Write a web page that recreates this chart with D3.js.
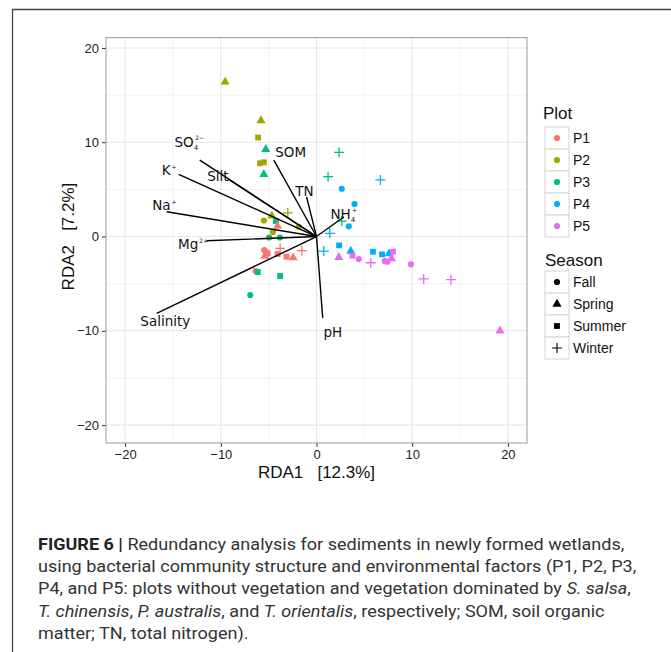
<!DOCTYPE html>
<html>
<head>
<meta charset="utf-8">
<script src="https://cdn.jsdelivr.net/npm/d3@7"></script>
<style>
  body { margin: 0; background: #fff; }
  svg { display: block; }
</style>
</head>
<body>
<div id="chart"></div>
<script>
// ---- data ----
const plots = ["P1", "P2", "P3", "P4", "P5"];
const plotColors = ["#F8766D", "#A3A500", "#00BF7D", "#00B0F6", "#E76BF3"];
const seasons = ["Fall", "Spring", "Summer", "Winter"];

const sampleX = [-9.55, -5.8, -6.1, -5.3, -5.9, -5.5, -5.5, -5.5, -4.67, -4.25, -4.07, -3.0, -1.85, -4.56,
  -4.95, -3.83, -5.47, -5.22, -5.4, -5.1, -3.8, -4.07, -3.13, -2.44, -1.53, -6.37, -6.13, -3.8, -6.93,
  2.36, 1.21, 6.68, 2.64, 3.97, 2.64, 3.37, 1.39, 0.76, 2.36, 2.33, 3.58, 3.76, 4.42, 5.9, 5.67, 6.85,
  7.13, 7.41, 7.58, 8.0, 7.83, 9.87, 11.2, 14.05, 19.17];
const sampleY = [16.4, 12.3, 10.5, 9.25, 7.77, 7.87, 6.6, 1.7, 2.2, 1.64, 1.1, 2.5, 1.04, 0.48,
  -0.1, -0.1, -1.43, -1.68, -2.07, -1.8, -1.25, -1.86, -2.14, -2.25, -1.5, -3.66, -3.77, -4.19, -6.2,
  8.93, 6.35, 6.0, 5.07, 3.45, 1.64, 1.08, 0.34, -1.54, -0.94, -2.2, -1.54, -2.03, -2.39, -1.61, -2.78, -1.89,
  -2.6, -2.67, -1.82, -1.61, -2.35, -2.95, -4.5, -4.58, -10.0];
const samplePlot = ["P2", "P2", "P2", "P3", "P2", "P2", "P3", "P2", "P2", "P3", "P1", "P2", "P2", "P2",
  "P3", "P3", "P1", "P1", "P1", "P1", "P1", "P1", "P1", "P1", "P1", "P1", "P3", "P3", "P3",
  "P3", "P3", "P4", "P4", "P4", "P3", "P4", "P4", "P4", "P4", "P5", "P4", "P5", "P5", "P4", "P5", "P4",
  "P5", "P5", "P4", "P5", "P5", "P5", "P5", "P5", "P5"];
const sampleSeason = ["Spring", "Spring", "Summer", "Spring", "Summer", "Summer", "Spring", "Fall", "Spring", "Summer", "Spring", "Winter", "Fall", "Fall",
  "Fall", "Fall", "Fall", "Fall", "Spring", "Summer", "Winter", "Summer", "Summer", "Spring", "Winter", "Fall", "Summer", "Summer", "Fall",
  "Winter", "Winter", "Winter", "Fall", "Fall", "Winter", "Fall", "Winter", "Winter", "Summer", "Spring", "Spring", "Summer", "Fall", "Summer", "Winter", "Summer",
  "Fall", "Fall", "Spring", "Summer", "Spring", "Fall", "Winter", "Winter", "Spring"];

// environmental vectors (arrow tips) and their label anchors, in RDA units
const envNames = ["SO4", "K", "Silt", "SOM", "TN", "Na", "Mg", "Salinity", "pH", "NH4"];
const envX = [-12.2, -14.4, -9.26, -4.46, -1.04, -15.66, -11.5, -16.7, 0.65, 2.85];
const envY = [8.1, 6.6, 6.1, 8.1, 4.2, 2.63, -0.45, -8.15, -8.65, 2.07];
const labX = [-13.3, -15.4, -10.3, -2.7, -1.27, -15.9, -12.9, -15.8, 1.7, 2.85];
const labY = [10.0, 7.05, 6.4, 8.97, 4.83, 3.3, -0.8, -8.97, -10.1, 2.44];
// label text pieces: [main, sub, sup]
const envText = [["SO", "4", "2−"], ["K", "", "+"], ["Silt", "", ""], ["SOM", "", ""], ["TN", "", ""],
  ["Na", "", "+"], ["Mg", "", "2+"], ["Salinity", "", ""], ["pH", "", ""], ["NH", "4", "+"]];

const xTicks = [-20, -10, 0, 10, 20];
const yTicks = [-20, -10, 0, 10, 20];
const minorTicks = [-15, -5, 5, 15];

const captionLines = [
  [["FIGURE 6 | ", "b"], ["Redundancy analysis for sediments in newly formed wetlands,", ""]],
  [["using bacterial community structure and environmental factors (P1, P2, P3,", ""]],
  [["P4, and P5: plots without vegetation and vegetation dominated by ", ""], ["S. salsa", "i"], [",", ""]],
  [["T. chinensis", "i"], [", ", ""], ["P. australis", "i"], [", and ", ""], ["T. orientalis", "i"], [", respectively; SOM, soil organic", ""]],
  [["matter; TN, total nitrogen).", ""]]
];

// ---- drawing ----
const W = 671, H = 652;
const svg = d3.select("#chart").append("svg")
  .attr("width", W)
  .attr("height", H)
  .style("font-family", "'Liberation Sans', Arial, sans-serif");

svg.append("rect").attr("width", W).attr("height", H).attr("fill", "#fff");

// figure frame
svg.append("path")
  .attr("d", `M12.5,${H} L12.5,9.5 L${W},9.5`)
  .attr("fill", "none")
  .attr("stroke", "#444")
  .attr("stroke-width", 1.3);

const panel = {left: 106, right: 527, top: 37.6, bottom: 443};

const x = d3.scaleLinear().domain([-22, 22]).range([panel.left, panel.right]);
const y = d3.scaleLinear().domain([-21.9, 21.1]).range([panel.bottom, panel.top]);

const color = d3.scaleOrdinal().domain(plots).range(plotColors);

const g = svg.append("g");

// grid
g.selectAll(".minor-x").data(minorTicks).enter().append("line")
  .attr("x1", d => x(d)).attr("x2", d => x(d))
  .attr("y1", panel.top).attr("y2", panel.bottom)
  .attr("stroke", "#f2f2f2").attr("stroke-width", 1);
g.selectAll(".minor-y").data(minorTicks).enter().append("line")
  .attr("y1", d => y(d)).attr("y2", d => y(d))
  .attr("x1", panel.left).attr("x2", panel.right)
  .attr("stroke", "#f2f2f2").attr("stroke-width", 1);
g.selectAll(".major-x").data(xTicks).enter().append("line")
  .attr("x1", d => x(d)).attr("x2", d => x(d))
  .attr("y1", panel.top).attr("y2", panel.bottom)
  .attr("stroke", "#e6e6e6").attr("stroke-width", 1.1);
g.selectAll(".major-y").data(yTicks).enter().append("line")
  .attr("y1", d => y(d)).attr("y2", d => y(d))
  .attr("x1", panel.left).attr("x2", panel.right)
  .attr("stroke", "#e6e6e6").attr("stroke-width", 1.1);

// axes
const fmt = d => d < 0 ? "−" + Math.abs(d) : String(d);
const xAxis = g.append("g")
  .attr("transform", `translate(0,${panel.bottom})`)
  .call(d3.axisBottom(x).tickValues(xTicks).tickFormat(fmt).tickSize(4).tickPadding(3));
const yAxis = g.append("g")
  .attr("transform", `translate(${panel.left},0)`)
  .call(d3.axisLeft(y).tickValues(yTicks).tickFormat(fmt).tickSize(4).tickPadding(3));
[xAxis, yAxis].forEach(a => {
  a.select(".domain").remove();
  a.selectAll("line").attr("stroke", "#333");
  a.selectAll("text").attr("fill", "#222").style("font-size", "13px")
    .style("font-family", "'Liberation Sans', Arial, sans-serif");
});

// panel border
g.append("rect")
  .attr("x", panel.left).attr("y", panel.top)
  .attr("width", panel.right - panel.left).attr("height", panel.bottom - panel.top)
  .attr("fill", "none").attr("stroke", "#9a9a9a").attr("stroke-width", 1);

// axis titles
g.append("text")
  .attr("x", x(0)).attr("y", 478)
  .attr("text-anchor", "middle")
  .style("font-size", "17px").attr("fill", "#111")
  .attr("xml:space", "preserve")
  .text("RDA1   [12.3%]");
g.append("text")
  .attr("transform", `translate(74,${y(0)}) rotate(-90)`)
  .attr("text-anchor", "middle")
  .style("font-size", "17px").attr("fill", "#111")
  .attr("xml:space", "preserve")
  .text("RDA2   [7.2%]");

// symbols
function shapePath(season) {
  if (season === "Fall") return d3.symbol(d3.symbolCircle, 30)();
  if (season === "Spring") return d3.symbol(d3.symbolTriangle, 36)();
  if (season === "Summer") return d3.symbol(d3.symbolSquare, 34)();
  return "M-5,0H5M0,-5V5";
}

const samples = sampleX.map((v, i) => ({x: v, y: sampleY[i], plot: samplePlot[i], season: sampleSeason[i]}));

g.selectAll(".pt").data(samples).enter().append("path")
  .attr("class", "pt")
  .attr("transform", d => `translate(${x(d.x)},${y(d.y)})`)
  .attr("d", d => shapePath(d.season))
  .attr("fill", d => d.season === "Winter" ? "none" : color(d.plot))
  .attr("stroke", d => d.season === "Winter" ? color(d.plot) : "none")
  .attr("stroke-width", 1.3);

// environmental arrows
const env = envNames.map((n, i) => ({name: n, x: envX[i], y: envY[i], lx: labX[i], ly: labY[i], t: envText[i]}));

g.selectAll(".arrow").data(env).enter().append("line")
  .attr("x1", x(0)).attr("y1", y(0))
  .attr("x2", d => x(d.x)).attr("y2", d => y(d.y))
  .attr("stroke", "#000").attr("stroke-width", 1.4);

const labels = g.selectAll(".envlab").data(env).enter().append("text")
  .attr("x", d => x(d.lx)).attr("y", d => y(d.ly) + 5)
  .attr("text-anchor", "middle")
  .style("font-family", "'DejaVu Sans', sans-serif")
  .style("font-size", "13.5px")
  .attr("fill", "#111");

labels.each(function(d) {
  const t = d3.select(this);
  t.append("tspan").text(d.t[0]);
  if (d.t[1]) {
    t.append("tspan").attr("dy", 3).style("font-size", "7px").text(d.t[1]);
  }
  if (d.t[2]) {
    t.append("tspan")
      .attr("dx", d.t[1] ? -3 : 1)
      .attr("dy", d.t[1] ? -10 : -6)
      .style("font-size", "6px").text(d.t[2]);
  }
});

// legend
const leg = svg.append("g").style("font-family", "'Liberation Sans', Arial, sans-serif");
const keyW = 24, keyH = 22;
const legX = 545;

leg.append("text").attr("x", 543).attr("y", 119).style("font-size", "17px").attr("fill", "#111").text("Plot");
plots.forEach((p, i) => {
  const top = 127 + i * keyH;
  leg.append("rect").attr("x", legX).attr("y", top).attr("width", keyW).attr("height", keyH)
    .attr("fill", "#fff").attr("stroke", "#d4d4d4").attr("stroke-width", 1);
  leg.append("path").attr("transform", `translate(${legX + keyW / 2},${top + keyH / 2})`)
    .attr("d", d3.symbol(d3.symbolCircle, 30)()).attr("fill", color(p));
  leg.append("text").attr("x", 573).attr("y", top + keyH / 2 + 5)
    .style("font-size", "14px").attr("fill", "#111").text(p);
});

leg.append("text").attr("x", 545).attr("y", 266).style("font-size", "17px").attr("fill", "#111").text("Season");
seasons.forEach((s, i) => {
  const top = 271 + i * keyH;
  leg.append("rect").attr("x", legX).attr("y", top).attr("width", keyW).attr("height", keyH)
    .attr("fill", "#fff").attr("stroke", "#d4d4d4").attr("stroke-width", 1);
  leg.append("path").attr("transform", `translate(${legX + keyW / 2},${top + keyH / 2})`)
    .attr("d", shapePath(s))
    .attr("fill", s === "Winter" ? "none" : "#000")
    .attr("stroke", s === "Winter" ? "#000" : "none")
    .attr("stroke-width", 1.1);
  leg.append("text").attr("x", 573).attr("y", top + keyH / 2 + 5)
    .style("font-size", "14px").attr("fill", "#111").text(s);
});

// caption
const cap = svg.append("g")
  .style("font-family", "'Liberation Sans Narrow', 'Roboto', sans-serif")
  .style("font-size", "17px")
  .attr("fill", "#333");

const capTexts = captionLines.map((parts, i) => {
  const t = cap.append("text").attr("x", 0).attr("y", 550 + i * 22.2).attr("xml:space", "preserve");
  parts.forEach(([str, st]) => {
    const sp = t.append("tspan").text(str);
    if (st === "b") sp.style("font-weight", "bold").attr("fill", "#222");
    if (st === "i") sp.style("font-style", "italic");
  });
  return t;
});
// fit caption width to the figure column (line 2 spans ~38..637)
const w2 = capTexts[1].node().getComputedTextLength();
const sx = 599 / w2;
cap.attr("transform", `translate(38,0) scale(${sx},1)`);
</script>
</body>
</html>
